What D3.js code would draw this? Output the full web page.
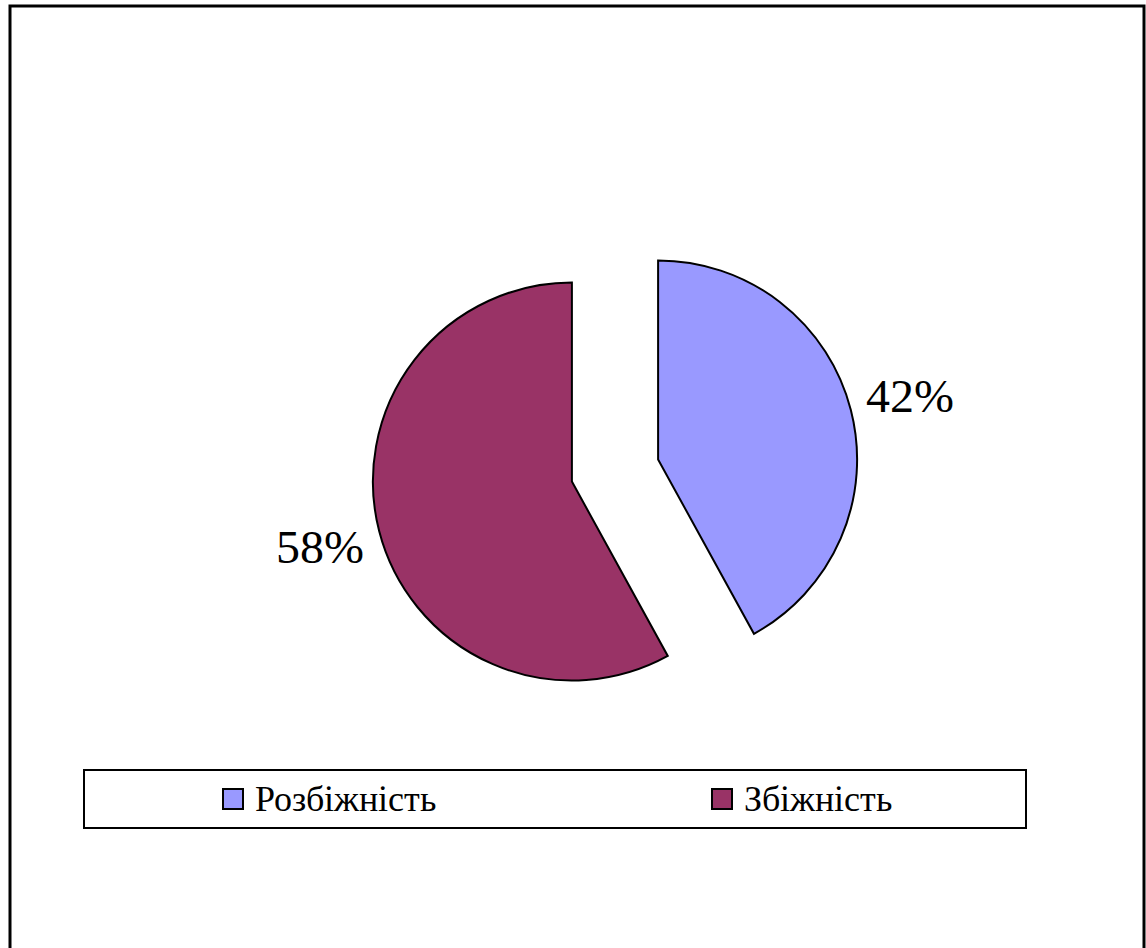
<!DOCTYPE html>
<html lang="uk">
<head>
<meta charset="utf-8">
<script src="https://cdn.jsdelivr.net/npm/d3@7"></script>
<style>
@font-face { font-family: "ChartSerif"; src: local("Liberation Serif"), local("LiberationSerif"), local("LiberationSerif-Regular"), local("Times New Roman"); }
#viz text { font-family: "ChartSerif", "Liberation Serif", serif !important; }
</style>
</head>
<body style="margin:0">
<svg id="viz" width="1146" height="948"></svg>
<script>
const categories = ["Розбіжність", "Збіжність"];
const values = [42, 58];
const labels = ["42%", "58%"];
const colors = ["#9999FF", "#993366"];

const svg = d3.select("#viz");
const FONT = '"ChartSerif", "Liberation Serif", serif';

// outer frame
svg.append("rect").attr("x", 10).attr("y", 6).attr("width", 1134).attr("height", 960)
  .attr("fill", "none").attr("stroke", "#000").attr("stroke-width", 3);

const cx = 615, cy = 470.5, r = 199, explode = 44.5, labelR = 305;

const pie = d3.pie().sort(null).value(d => d)(values);
const arc = d3.arc().innerRadius(0).outerRadius(r);
const labelArc = d3.arc().innerRadius(labelR).outerRadius(labelR);

const g = svg.append("g").attr("transform", `translate(${cx},${cy})`);

g.selectAll("path.slice").data(pie).enter().append("path")
  .attr("class", "slice")
  .attr("d", arc)
  .attr("transform", d => {
    const a = (d.startAngle + d.endAngle) / 2;
    return `translate(${Math.sin(a) * explode},${-Math.cos(a) * explode})`;
  })
  .attr("fill", (d, i) => colors[i])
  .attr("stroke", "#000").attr("stroke-width", 2).attr("stroke-linejoin", "miter");

svg.selectAll("text.lbl").data(pie).enter().append("text")
  .attr("class", "lbl")
  .attr("x", d => cx + labelArc.centroid(d)[0])
  .attr("y", d => cy + labelArc.centroid(d)[1] + 17)
  .attr("text-anchor", "middle")
  .style("font-family", FONT, "important")
  .style("font-size", "48px")
  .text((d, i) => labels[i]);

// legend
svg.append("rect").attr("x", 84).attr("y", 770).attr("width", 942).attr("height", 58)
  .attr("fill", "#fff").attr("stroke", "#000").attr("stroke-width", 2);
const itemX = d3.scalePoint().domain(categories).range([223, 712]);
svg.selectAll("rect.mk").data(categories).enter().append("rect")
  .attr("class", "mk")
  .attr("x", d => itemX(d)).attr("y", 789)
  .attr("width", 20).attr("height", 20)
  .attr("fill", (d, i) => colors[i]).attr("stroke", "#000").attr("stroke-width", 2);
svg.selectAll("text.lg").data(categories).enter().append("text")
  .attr("class", "lg")
  .attr("x", d => itemX(d) + 32).attr("y", 811)
  .style("font-family", FONT, "important")
  .style("font-size", "36px")
  .text(d => d);
</script>
</body>
</html>
